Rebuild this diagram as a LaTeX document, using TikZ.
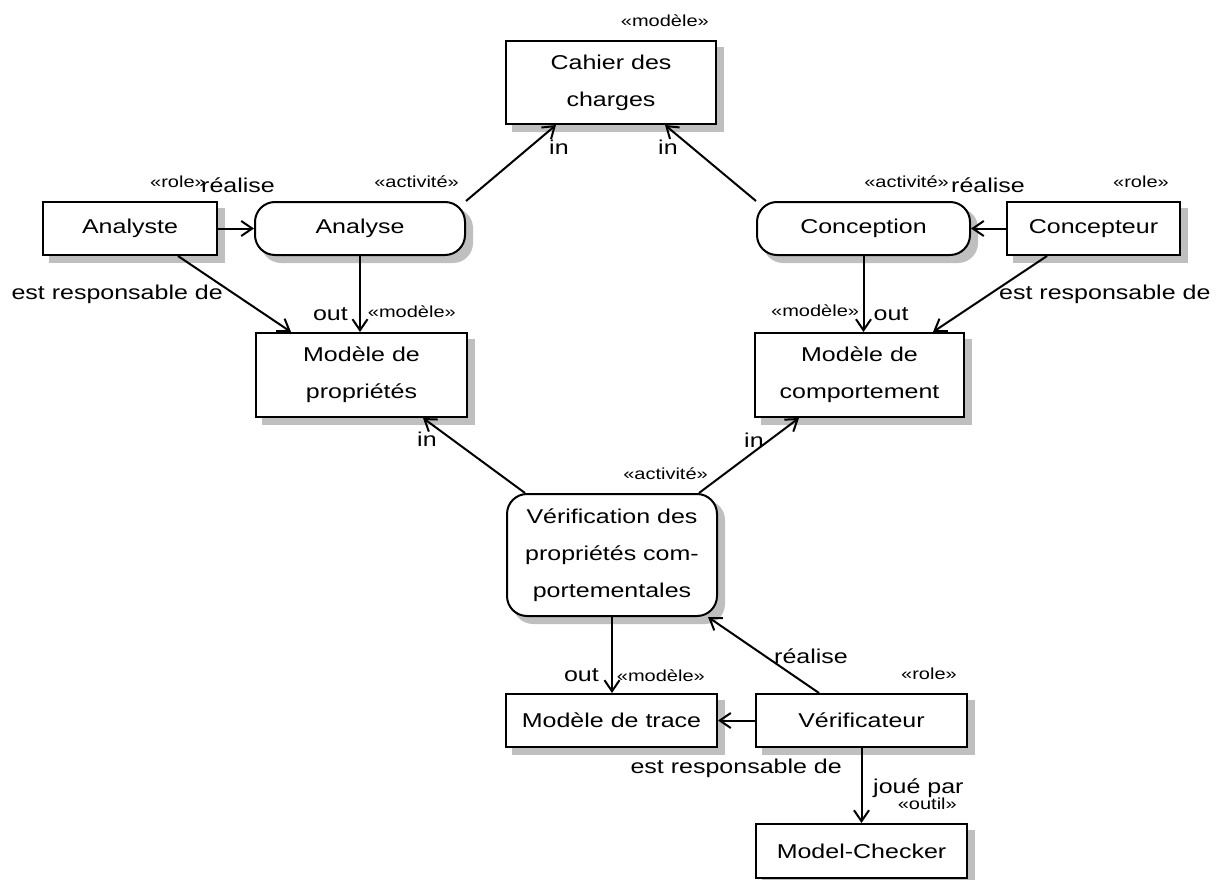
\documentclass[tikz,border=0pt]{standalone}
\usepackage{fontspec}
\setmainfont{Liberation Sans}[FakeStretch=1.25]
\usetikzlibrary{arrows.meta,positioning,calc,backgrounds}

\tikzset{
	box/.style={draw, line width=2pt, fill=white, inner sep=0pt, align=center,
		font=\fontsize{20}{37}\selectfont},
	activity/.style={box, rounded corners=20pt},
	link/.style={line width=2pt, -{Straight Barb[length=11pt,width=15pt]}},
	lbl/.style={inner sep=0pt, font=\fontsize{20}{24}\selectfont},
	stereo/.style={inner sep=0pt, font=\fontsize{16}{19}\selectfont, anchor=base east},
	boxshadow/.style={fill=black!25},
}

\begin{document}
\begin{tikzpicture}[x=1pt,y=-1pt]
	\useasboundingbox (0,0) rectangle (1229,880);

	% models, activities and roles
	\node[box, minimum width=210pt, minimum height=83pt] (cahier) at (611,82.5) {Cahier des\\charges};
	\node[box, minimum width=174pt, minimum height=53pt] (analyste) at (130,228.5) {Analyste};
	\node[activity, minimum width=210pt, minimum height=53pt] (analyse) at (360,228.5) {Analyse};
	\node[activity, minimum width=213pt, minimum height=53pt] (conception) at (863.5,228.5) {Conception};
	\node[box, minimum width=173pt, minimum height=53pt] (concepteur) at (1093.5,228.5) {Concepteur};
	\node[box, minimum width=211pt, minimum height=84pt] (props) at (361.5,375) {Modèle de\\propriétés};
	\node[box, minimum width=209pt, minimum height=84pt] (comport) at (859.5,375) {Modèle de\\comportement};
	\node[activity, minimum width=210pt, minimum height=122pt] (verif) at (612,555) {Vérification des\\propriétés com-\\portementales};
	\node[box, minimum width=211pt, minimum height=53pt] (trace) at (611.5,720.5) {Modèle de trace};
	\node[box, minimum width=211pt, minimum height=53pt] (verifr) at (861.5,720.5) {Vérificateur};
	\node[box, minimum width=211pt, minimum height=54pt] (checker) at (861.5,851) {Model-Checker};

	% shadows under the boxes
	\begin{scope}[on background layer]
		\foreach \n in {cahier,analyste,concepteur,props,comport,trace,verifr,checker}
			\fill[boxshadow] ($(\n.south west)+(7,7)$) rectangle ($(\n.north east)+(7,7)$);
		\foreach \n in {analyse,conception,verif}
			\fill[boxshadow, rounded corners=20pt] ($(\n.south west)+(7,7)$) rectangle ($(\n.north east)+(7,7)$);
	\end{scope}

	% stereotypes
	\node[stereo] (st-cahier) at ($(cahier.north east)+(-8,-13)$) {«modèle»};
	\node[stereo] (st-analyste) at ($(analyste.north east)+(-12,-14)$) {«role»};
	\node[stereo] (st-analyse) at ($(analyse.north east)+(-7,-14)$) {«activité»};
	\node[stereo] (st-conception) at ($(conception.north east)+(-22,-14)$) {«activité»};
	\node[stereo] (st-concepteur) at ($(concepteur.north east)+(-12,-14)$) {«role»};
	\node[stereo] (st-props) at ($(props.north east)+(-12,-15)$) {«modèle»};
	\node[stereo, anchor=base west] (st-comport) at ($(comport.north west)+(17,-16)$) {«modèle»};
	\node[stereo] (st-verif) at ($(verif.north east)+(-10,-14)$) {«activité»};
	\node[stereo] (st-trace) at ($(trace.north east)+(-13,-12)$) {«modèle»};
	\node[stereo] (st-verifr) at ($(verifr.north east)+(-11,-14)$) {«role»};
	\node[stereo] (st-checker) at ($(checker.north east)+(-11,-14)$) {«outil»};

	% connectors
	\draw[link] (analyste.east) -- (analyse.west);
	\draw[link] ($(analyste.south east)+(-40,0)$) -- ($(props.north west)+(36,0)$);
	\draw[link] (analyse.south) -- (analyse.south |- props.north);
	\draw[link] (analyse.north east) -- ($(cahier.south west)+(51,0)$);
	\draw[link] (conception.north west) -- ($(cahier.south east)+(-52,0)$);
	\draw[link] (concepteur.west) -- (conception.east);
	\draw[link] (conception.south) -- (conception.south |- comport.north);
	\draw[link] ($(concepteur.south west)+(41,0)$) -- ($(comport.north east)+(-32,0)$);
	\draw[link] ($(verif.north west)+(19,0)$) -- ($(props.south east)+(-45,0)$);
	\draw[link] ($(verif.north east)+(-19,0)$) -- ($(comport.south west)+(45,0)$);
	\draw[link] (verif.south) -- (verif.south |- trace.north);
	\draw[link] ($(verifr.north west)+(64,0)$) -- ($(verif.south east)+(-10,0)$);
	\draw[link] (verifr.west) -- (trace.east);
	\draw[link] (verifr.south) -- (checker.north);

	% connector labels
	\node[lbl, anchor=base west] (l-real1) at ($(analyste.north east)+(-17,-9)$) {réalise};
	\node[lbl, anchor=base east] (l-resp1) at ($(analyste.south east)+(5,43)$) {est responsable de};
	\node[lbl, anchor=base east] (l-out1) at ($(analyse.south |- props.north)+(-12,-12)$) {out};
	\node[lbl, anchor=base west] (l-in1) at ($(cahier.south west)+(44,29)$) {in};
	\node[lbl, anchor=base west] (l-in2) at ($(cahier.south east)+(-59,29)$) {in};
	\node[lbl, anchor=base west] (l-real2) at ($(conception.north east)+(-20,-9)$) {réalise};
	\node[lbl, anchor=base west] (l-resp2) at ($(concepteur.south west)+(-7,43)$) {est responsable de};
	\node[lbl, anchor=base west] (l-out2) at ($(conception.south |- comport.north)+(10,-12)$) {out};
	\node[lbl, anchor=base west] (l-in3) at ($(props.south east)+(-51,28)$) {in};
	\node[lbl, anchor=base west] (l-in4) at ($(comport.south west)+(-10,29)$) {in};
	\node[lbl, anchor=base east] (l-out3) at ($(verif.south |- trace.north)+(-13,-12)$) {out};
	\node[lbl, anchor=base west] (l-real3) at ($(verifr.north west)+(19,-30)$) {réalise};
	\node[lbl, anchor=base east] (l-resp3) at ($(verifr.south west)+(87,25)$) {est responsable de};
	\node[lbl, anchor=base west] (l-joue) at ($(verifr.south)+(11.5,45)$) {joué par};
\end{tikzpicture}
\end{document}
